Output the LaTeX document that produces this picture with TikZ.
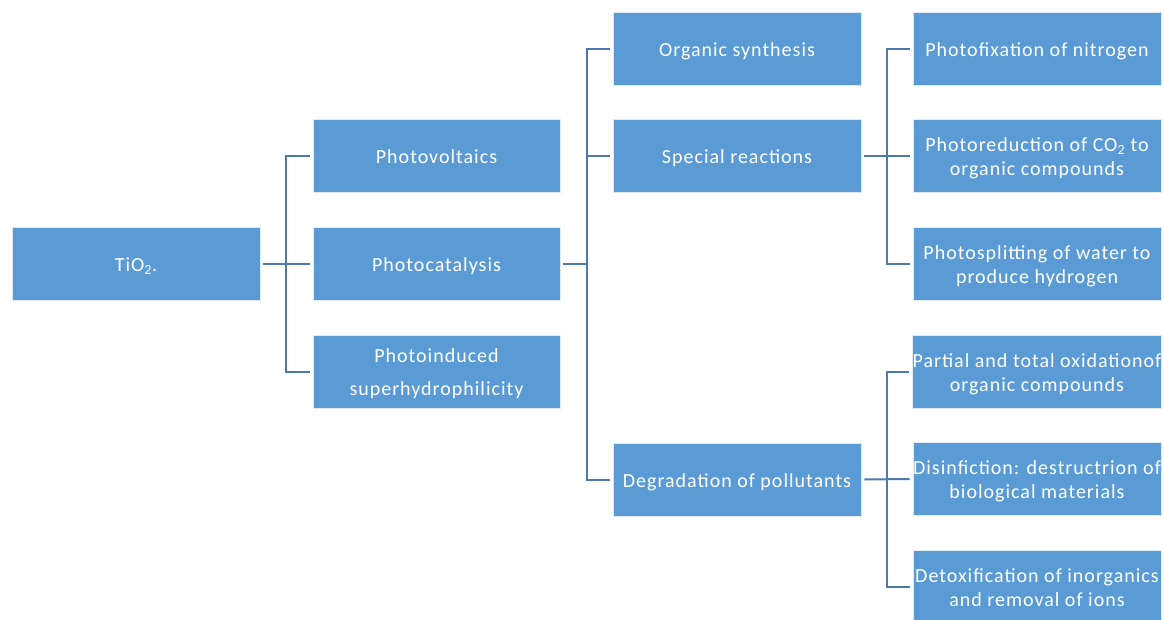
\documentclass[tikz,border=0pt]{standalone}
\usepackage{fontspec}
\setmainfont[LetterSpace=5]{Carlito}
\definecolor{boxblue}{HTML}{5B9BD5}
\definecolor{linkblue}{HTML}{4A7AB0}
\begin{document}
\begin{tikzpicture}[x=1pt,y=-1pt,
  item/.style={rectangle, fill=boxblue, draw=white!80!boxblue, line width=0.6pt,
    minimum width=248pt, minimum height=73pt, inner sep=0pt,
    text height=17pt, text depth=2pt,
    text=white, align=center, font=\fontsize{20}{24}\selectfont},
  twoline/.style={text height=41pt},
  conn/.style={draw=linkblue, line width=2pt}]
\useasboundingbox (0,0) rectangle (1164,619);

% root and first level
\node[item] (tio) at (136,263.5) {TiO\textsubscript{2}.};
\node[item, minimum width=247pt] (pv) at (436.5,156)   {Photovoltaics};
\node[item, minimum width=247pt] (pc) at (436.5,263.5) {Photocatalysis};
\node[item, text height=50pt, minimum width=247pt] (pi) at (436.5,371.5) {Photoinduced\\[9pt]superhydrophilicity};

% second level
\node[item] (os) at (737,48.5)  {Organic synthesis};
\node[item] (sr) at (737,156)   {Special reactions};
\node[item] (dp) at (737,479.5) {Degradation of pollutants};

% third level
\node[item] (pf) at (1037,48.5)  {Photofixation of nitrogen};
\node[item, twoline] (pr) at (1037,156)   {Photoreduction of CO\textsubscript{2} to\\organic compounds};
\node[item, twoline] (ps) at (1037,264)   {Photosplitting of water to\\produce hydrogen};
\node[item, twoline] (po) at (1037,371.5) {Partial and total oxidationof\\organic compounds};
\node[item, twoline] (di) at (1037,479)   {Disinfiction: destructrion of\\biological materials};
\node[item, twoline] (de) at (1037,586.5) {Detoxification of inorganics\\and removal of ions};

% bus points of the bracket connectors
\coordinate (b1) at (286,263.5);
\coordinate (b2) at (587,263.5);
\coordinate (b3) at (887,156);
\coordinate (b4) at (887,479);

% root to first level
\draw[conn] ([xshift=3pt]tio.east) -- ([xshift=-3pt]pc.west);
\draw[conn] ([xshift=-3pt]pv.west) -| (b1) |- ([xshift=-3pt]pi.west);

% photocatalysis to second level
\draw[conn] ([xshift=3pt]pc.east) -- (b2);
\draw[conn] ([xshift=-3pt]os.west) -| (b2) |- ([xshift=-3pt]dp.west);
\draw[conn] (b2 |- sr.west) -- ([xshift=-3pt]sr.west);

% special reactions to third level
\draw[conn] ([xshift=3pt]sr.east) -- ([xshift=-3pt]pr.west);
\draw[conn] ([xshift=-3pt]pf.west) -| (b3) |- ([xshift=-3pt]ps.west);

% degradation to third level
\draw[conn] ([xshift=3pt]dp.east) -- ([xshift=-3pt]di.west);
\draw[conn] ([xshift=-3pt]po.west) -| (b4) |- ([xshift=-3pt]de.west);
\end{tikzpicture}
\end{document}
